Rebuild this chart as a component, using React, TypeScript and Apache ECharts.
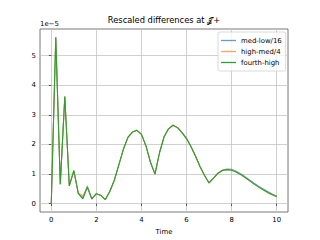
import React, { useEffect, useRef } from "react";
import * as echarts from "echarts";

const times = [
  0, 0.2, 0.4, 0.6, 0.8, 1.0, 1.2, 1.4, 1.6, 1.8,
  2.0, 2.2, 2.4, 2.6, 2.8, 3.0, 3.2, 3.4, 3.6, 3.8,
  4.0, 4.2, 4.4, 4.6, 4.8, 5.0, 5.2, 5.4, 5.6, 5.8,
  6.0, 6.2, 6.4, 6.6, 6.8, 7.0, 7.2, 7.4, 7.6, 7.8,
  8.0, 8.2, 8.4, 8.6, 8.8, 9.0, 9.2, 9.4, 9.6, 9.8, 10.0,
];

const fourthHigh = [
  0, 5.62, 0.66, 3.62, 0.6, 1.12, 0.34, 0.16, 0.55, 0.16,
  0.34, 0.28, 0.14, 0.42, 0.8, 1.32, 1.84, 2.24, 2.42, 2.48,
  2.34, 1.95, 1.4, 1.0, 1.72, 2.25, 2.53, 2.65, 2.57, 2.4,
  2.2, 1.92, 1.6, 1.25, 0.95, 0.7, 0.86, 1.03, 1.12, 1.15,
  1.13, 1.07, 0.98, 0.88, 0.77, 0.66, 0.56, 0.47, 0.38, 0.3, 0.23,
];

const highMed4 = [
  0, 5.62, 0.66, 3.62, 0.6, 1.12, 0.36, 0.27, 0.55, 0.16,
  0.34, 0.28, 0.14, 0.42, 0.8, 1.32, 1.84, 2.24, 2.42, 2.48,
  2.34, 1.95, 1.4, 1.0, 1.72, 2.25, 2.53, 2.65, 2.57, 2.4,
  2.2, 1.92, 1.6, 1.25, 0.95, 0.7, 0.86, 1.03, 1.12, 1.15,
  1.13, 1.07, 0.98, 0.88, 0.77, 0.66, 0.56, 0.47, 0.38, 0.3, 0.23,
];

const medLow16 = [
  0, 5.62, 0.66, 3.62, 0.6, 1.12, 0.34, 0.2, 0.6, 0.16,
  0.34, 0.28, 0.14, 0.42, 0.8, 1.32, 1.84, 2.24, 2.42, 2.48,
  2.34, 1.95, 1.4, 1.0, 1.72, 2.25, 2.53, 2.65, 2.57, 2.4,
  2.2, 1.92, 1.6, 1.25, 0.95, 0.7, 0.87, 1.04, 1.14, 1.17,
  1.16, 1.1, 1.01, 0.91, 0.8, 0.69, 0.59, 0.5, 0.41, 0.33, 0.26,
];

const seriesNames = ["med-low/16", "high-med/4", "fourth-high"];
const seriesValues = [medLow16, highMed4, fourthHigh];
const seriesColors = ["#1f77b4", "#ff7f0e", "#2ca02c"];
const seriesOpacity = [0.7, 0.7, 1];

const xTicks = [0, 2, 4, 6, 8, 10];
const yTicks = [0, 1, 2, 3, 4, 5];

const titleText = "Rescaled differences at \u{1D4A5}+";
const xLabel = "Time";
const yOffsetText = "1e\u22125";

const FONT = "DejaVu Sans";

export default function App() {
  const ref = useRef<HTMLDivElement>(null);
  useEffect(() => {
    if (!ref.current) return;
    const chart = echarts.init(ref.current, null, { renderer: "svg" });
    const tickStyle = { show: true, length: 2.4, lineStyle: { color: "#222", width: 0.7 } };
    chart.setOption({
      animation: false,
      backgroundColor: "#fff",
      textStyle: { fontFamily: FONT },
      grid: {
        left: 40,
        right: 32,
        top: 29,
        bottom: 26.5,
        show: true,
        borderColor: "#555",
        borderWidth: 0.8,
        backgroundColor: "transparent",
      },
      graphic: [
        {
          type: "text",
          x: 164,
          y: 20,
          style: {
            text: titleText,
            fontFamily: FONT,
            fontSize: 8.3,
            fill: "#000",
            textAlign: "center",
            textVerticalAlign: "middle",
          },
        },
        {
          type: "text",
          x: 40,
          y: 24,
          style: {
            text: yOffsetText,
            fontFamily: FONT,
            fontSize: 6.9,
            fill: "#000",
            textAlign: "left",
            textVerticalAlign: "middle",
          },
        },
      ],
      legend: {
        show: true,
        orient: "vertical",
        left: 218,
        top: 32,
        data: seriesNames,
        icon: "rect",
        itemWidth: 15,
        itemHeight: 1.3,
        itemGap: 0,
        padding: [3, 4, 3, 3],
        borderColor: "#d0d0d0",
        borderWidth: 0.8,
        borderRadius: 2,
        backgroundColor: "rgba(255,255,255,0.8)",
        textStyle: { fontFamily: FONT, fontSize: 6.9, color: "#000", lineHeight: 11, padding: [0, 0, 0, 0] },
      },
      xAxis: {
        type: "value",
        min: -0.5,
        max: 10.5,
        name: xLabel,
        nameLocation: "middle",
        nameGap: 16,
        nameTextStyle: { fontFamily: FONT, fontSize: 6.9, color: "#000" },
        axisLine: { show: false },
        axisTick: { ...tickStyle, customValues: xTicks },
        axisLabel: {
          customValues: xTicks,
          fontFamily: FONT,
          fontSize: 6.9,
          color: "#000",
          margin: 4,
          formatter: (v: number) => String(v),
        },
        splitLine: { show: true, lineStyle: { color: "#c4c4c4", width: 0.8 } },
      },
      yAxis: {
        type: "value",
        min: -0.281,
        max: 5.901,
        axisLine: { show: false },
        axisTick: { ...tickStyle, customValues: yTicks },
        axisLabel: {
          customValues: yTicks,
          fontFamily: FONT,
          fontSize: 6.9,
          color: "#000",
          margin: 4,
          formatter: (v: number) => String(v),
        },
        splitLine: { show: true, lineStyle: { color: "#c4c4c4", width: 0.8 } },
      },
      series: seriesNames.map((name, i) => ({
        name,
        type: "line",
        showSymbol: false,
        symbol: "none",
        color: seriesColors[i],
        lineStyle: { color: seriesColors[i], width: 1.05, opacity: seriesOpacity[i] },
        itemStyle: { color: seriesColors[i], opacity: seriesOpacity[i] },
        data: times.map((t, j) => [t, seriesValues[i][j]]),
      })),
    });
    return () => chart.dispose();
  }, []);
  return <div ref={ref} style={{ width: 320, height: 240, position: "absolute", left: 0, top: 0 }} />;
}
